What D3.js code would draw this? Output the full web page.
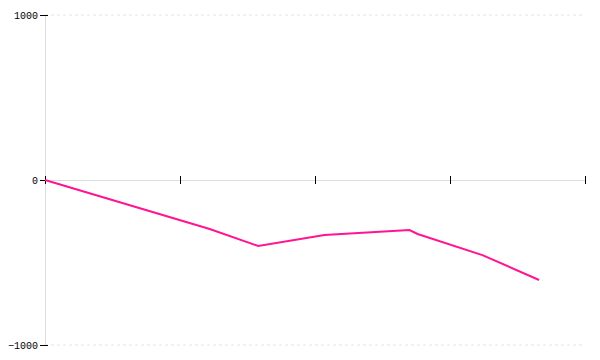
<!DOCTYPE html>
<html>
<head>
<meta charset="utf-8">
<script src="https://cdn.jsdelivr.net/npm/d3@7"></script>
<style>
  body { margin: 0; background: #fff; }
  svg text { font-family: "Liberation Mono", monospace; font-size: 10px; fill: #000; }
</style>
</head>
<body>
<div id="chart"></div>
<script>
// values
var xValues = [0, 12.2, 15.8, 20.7, 27.0, 27.6, 32.4, 36.6];
var yValues = [0, -297, -400, -333, -303, -327, -455, -606];
var xTicks = [0, 10, 20, 30, 40];
var yTicks = [-1000, 0, 1000];

var width = 600, height = 360;

var svg = d3.select("#chart")
    .append("svg")
    .attr("width", width)
    .attr("height", height);

var x = d3.scaleLinear()
    .domain([0, 40])
    .range([45, 585]);

var y = d3.scaleLinear()
    .domain([-1000, 1000])
    .range([345, 15]);

// dashed grid lines for +/-1000
svg.append("g")
    .selectAll("line")
    .data(yTicks.filter(function(d) { return d != 0; }))
    .enter()
    .append("line")
    .attr("x1", x(0))
    .attr("x2", x(40))
    .attr("y1", function(d) { return y(d); })
    .attr("y2", function(d) { return y(d); })
    .attr("stroke", "#e4e4e4")
    .attr("stroke-dasharray", "3,3");

// y axis
var yAxis = svg.append("g")
    .attr("transform", "translate(" + x(0) + ",0)")
    .call(d3.axisLeft(y).tickValues(yTicks).tickSize(5).tickPadding(2).tickFormat(d3.format("d")));
yAxis.select(".domain").attr("stroke", "#ddd");
yAxis.selectAll(".tick line").attr("x1", 3).attr("x2", -5).attr("stroke", "#000");
yAxis.selectAll(".tick text").attr("font-family", null).attr("font-size", null);

// x axis along zero
var xAxis = svg.append("g")
    .attr("transform", "translate(0," + y(0) + ")")
    .call(d3.axisBottom(x).tickValues(xTicks).tickSize(4).tickFormat(""));
xAxis.select(".domain").attr("stroke", "#ddd");
xAxis.selectAll(".tick line").attr("y1", -4).attr("stroke", "#000");

// the line
var line = d3.line()
    .x(function(d, i) { return x(xValues[i]); })
    .y(function(d) { return y(d); });

svg.append("path")
    .datum(yValues)
    .attr("fill", "none")
    .attr("stroke", "#ff1493")
    .attr("stroke-width", 2)
    .attr("d", line);
</script>
</body>
</html>
